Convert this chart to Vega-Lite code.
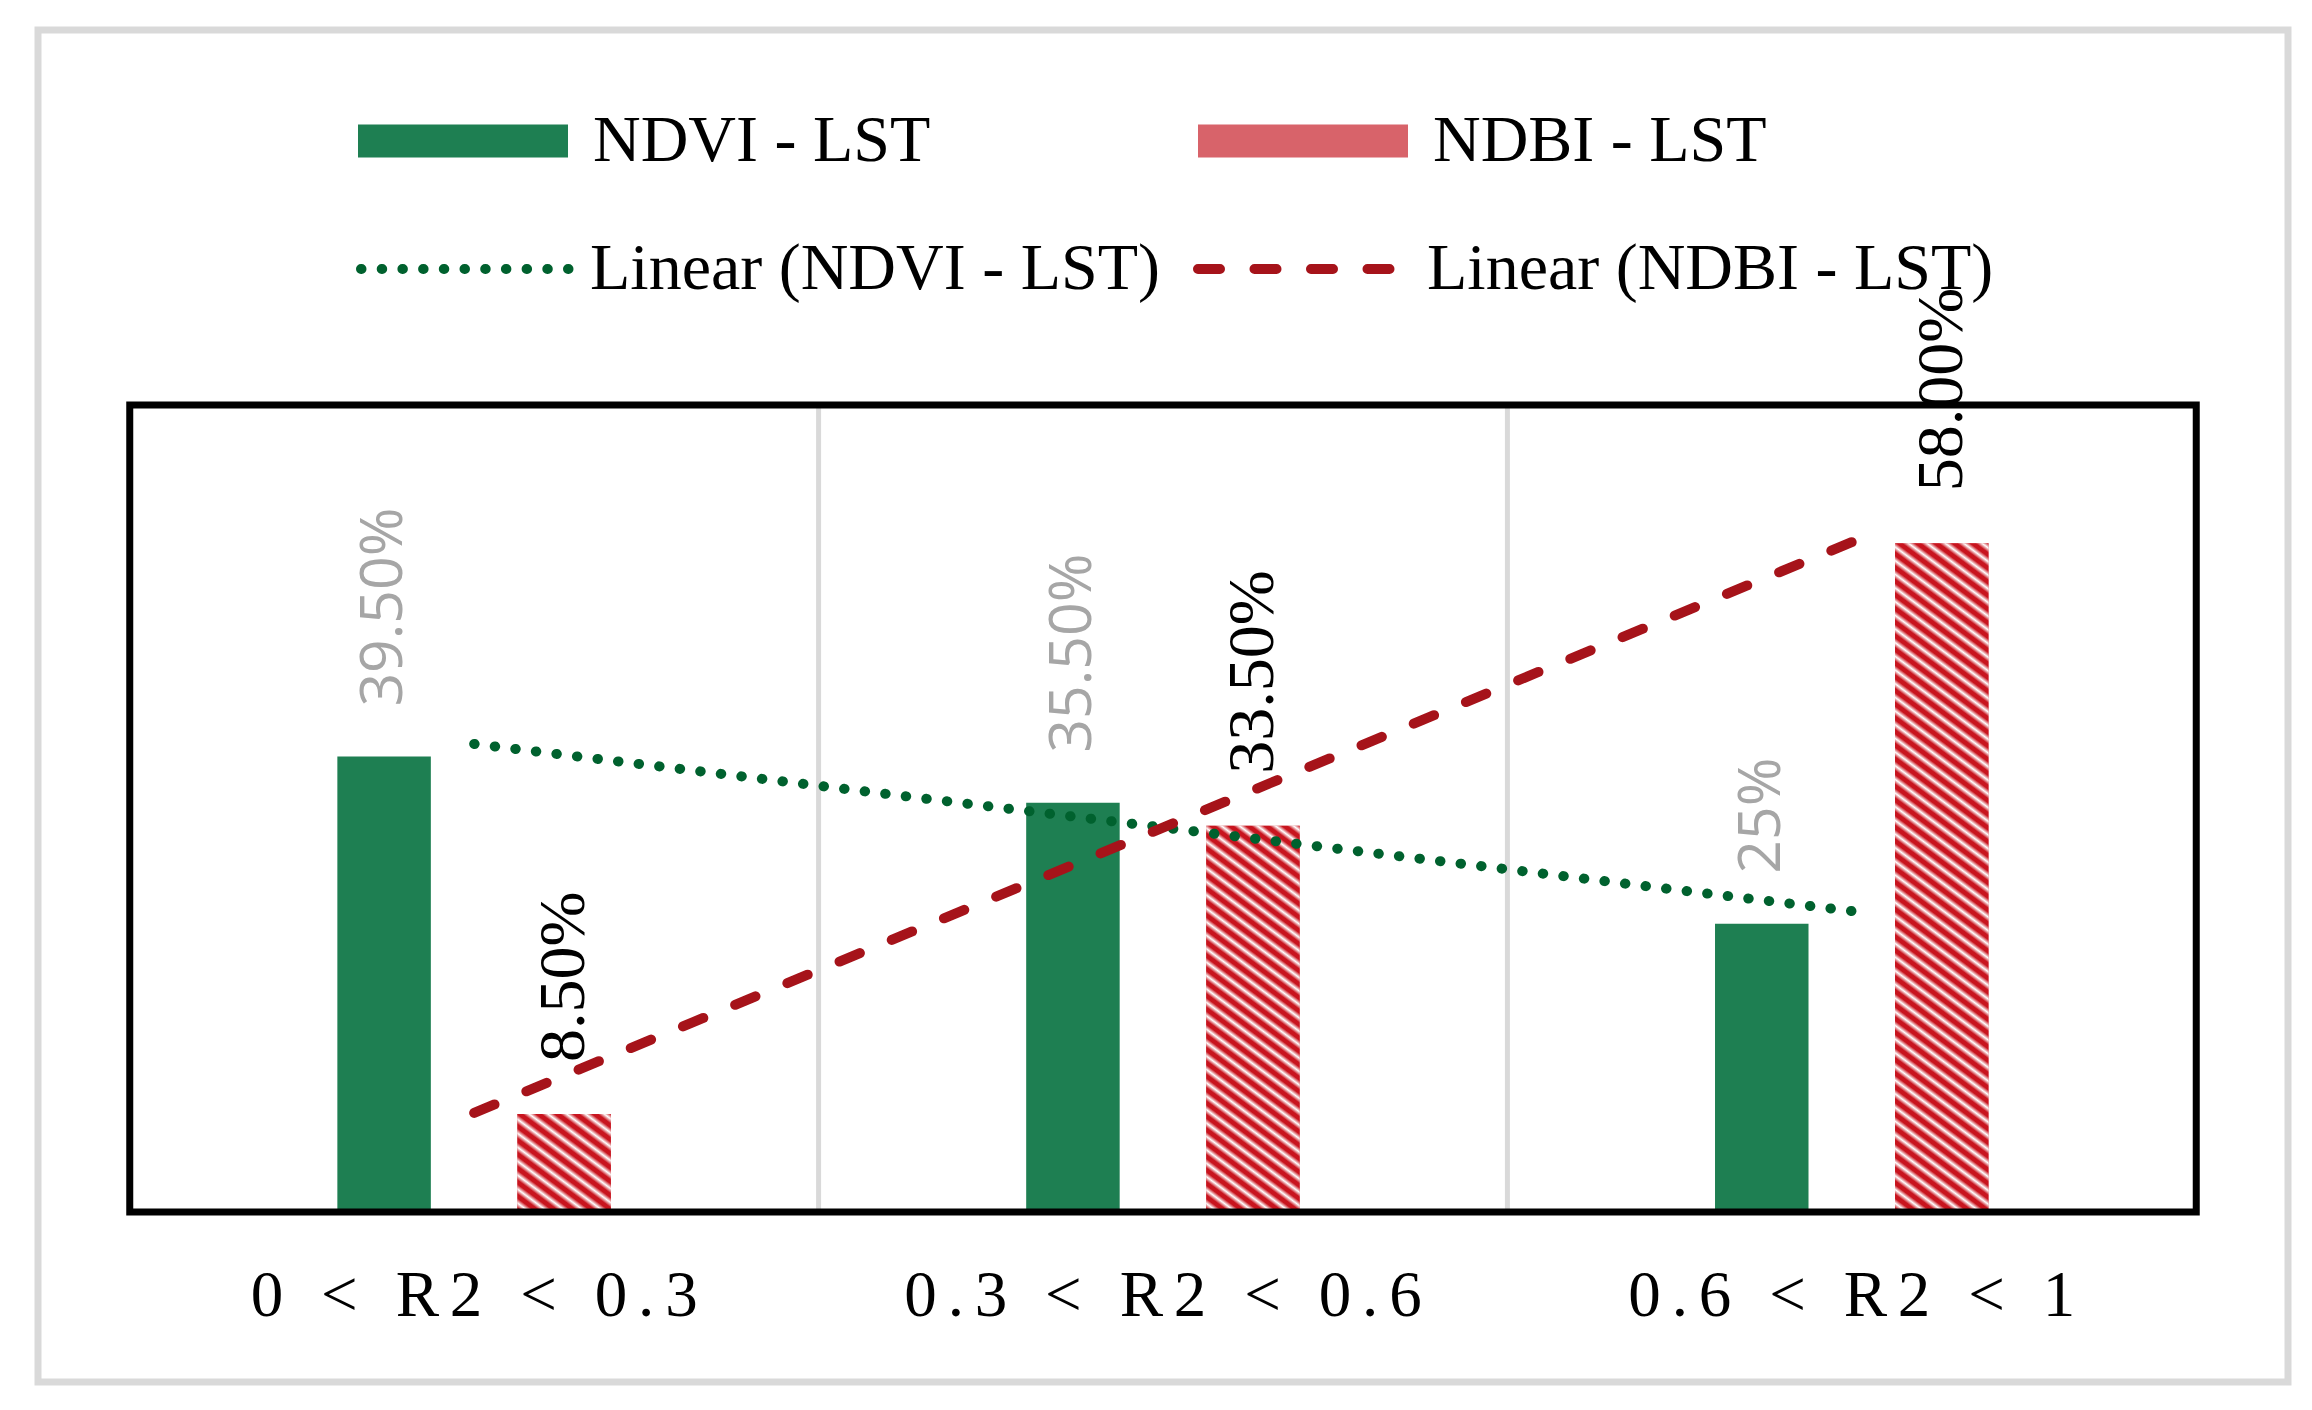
{
  "$schema": "https://vega.github.io/schema/vega-lite/v6.json",
  "width": 2250,
  "height": 1352,
  "autosize": {"type": "none"},
  "padding": {"left": 38, "top": 30, "right": 24, "bottom": 28},
  "background": "#ffffff",
  "datasets": {
    "bars": [
      {"cat": "0 < R2 < 0.3", "series": "NDVI - LST", "value": 39.5, "label": "39.50%"},
      {"cat": "0 < R2 < 0.3", "series": "NDBI - LST", "value": 8.5, "label": "8.50%"},
      {"cat": "0.3 < R2 < 0.6", "series": "NDVI - LST", "value": 35.5, "label": "35.50%"},
      {"cat": "0.3 < R2 < 0.6", "series": "NDBI - LST", "value": 33.5, "label": "33.50%"},
      {"cat": "0.6 < R2 < 1", "series": "NDVI - LST", "value": 25, "label": "25%"},
      {"cat": "0.6 < R2 < 1", "series": "NDBI - LST", "value": 58, "label": "58.00%"}
    ],
    "trend": [
      {"cat": "0 < R2 < 0.3", "trend": "Linear (NDVI - LST)", "value": 40.6},
      {"cat": "0.6 < R2 < 1", "trend": "Linear (NDVI - LST)", "value": 26.1},
      {"cat": "0 < R2 < 0.3", "trend": "Linear (NDBI - LST)", "value": 8.6},
      {"cat": "0.6 < R2 < 1", "trend": "Linear (NDBI - LST)", "value": 58.1}
    ],
    "gridlines": [
      {"cat": "0.3 < R2 < 0.6", "lo": 0, "hi": 70},
      {"cat": "0.6 < R2 < 1", "lo": 0, "hi": 70}
    ],
    "frame": [
      {"from": "0 < R2 < 0.3", "to": "0.6 < R2 < 1", "lo": 0, "hi": 70}
    ]
  },
  "encoding": {
    "x": {
      "field": "cat",
      "type": "nominal",
      "scale": {
        "domain": ["0 < R2 < 0.3", "0.3 < R2 < 0.6", "0.6 < R2 < 1"],
        "paddingInner": 0,
        "paddingOuter": 0.1332
      },
      "axis": {
        "title": null,
        "domain": false,
        "ticks": false,
        "grid": false,
        "offset": -170,
        "labelAngle": 0,
        "labelFont": "Liberation Serif",
        "labelFontSize": 65,
        "labelColor": "#000000",
        "labelPadding": 103,
        "labelBaseline": "alphabetic",
        "labelLimit": 0,
        "labelExpr": "join(split(datum.label, ''), '\u2006')"
      }
    },
    "y": {
      "field": "value",
      "type": "quantitative",
      "scale": {"domain": [-14.74, 102.52], "nice": false, "zero": false},
      "axis": null
    }
  },
  "layer": [
    {
      "data": {"name": "gridlines"},
      "mark": {"type": "rule", "stroke": "#d9d9d9", "strokeWidth": 5},
      "encoding": {
        "x": {"field": "cat", "type": "nominal", "bandPosition": 0},
        "y": {"field": "lo", "type": "quantitative"},
        "y2": {"field": "hi"}
      }
    },
    {
      "data": {"name": "bars"},
      "mark": {"type": "bar"},
      "encoding": {
        "xOffset": {
          "field": "series",
          "type": "nominal",
          "scale": {"domain": ["NDVI - LST", "NDBI - LST"], "range": [207.6, 481.1], "paddingInner": 0.4806, "paddingOuter": 0}
        },
        "y2": {"datum": 0},
        "color": {
          "field": "series",
          "type": "nominal",
          "scale": {"domain": ["NDVI - LST", "NDBI - LST"], "range": ["#1e7f52", "#d8636a"]},
          "legend": {
            "orient": "none",
            "legendX": 320,
            "legendY": 6,
            "direction": "horizontal",
            "title": null,
            "padding": 0,
            "symbolType": "M-1,-0.157H1V0.157H-1Z",
            "symbolSize": 44100,
            "symbolStrokeWidth": 0,
            "symbolOpacity": 1,
            "labelFont": "Liberation Serif",
            "labelFontSize": 66,
            "labelColor": "#000000",
            "labelOffset": 25,
            "labelLimit": 0,
            "columnPadding": 267
          }
        }
      }
    },
    {
      "data": {"name": "bars"},
      "transform": [{"filter": "datum.series === 'NDBI - LST'"}],
      "mark": {"type": "bar"},
      "encoding": {
        "xOffset": {"field": "series", "type": "nominal"},
        "y2": {"datum": 0},
        "fill": {
          "condition": [
            {
              "test": "datum.value === 58",
              "value": {
                "gradient": "linear", "x1": 0, "y1": 1, "x2": 0.1136, "y2": -0.0922,
                "stops": [
                  {"offset": 0, "color": "#c8141e"}, {"offset": 0.0056, "color": "#c8141e"}, {"offset": 0.012, "color": "#ffffff"},
                  {"offset": 0.0185, "color": "#c8141e"}, {"offset": 0.0241, "color": "#c8141e"}, {"offset": 0.0306, "color": "#ffffff"},
                  {"offset": 0.037, "color": "#c8141e"}, {"offset": 0.0426, "color": "#c8141e"}, {"offset": 0.0491, "color": "#ffffff"},
                  {"offset": 0.0556, "color": "#c8141e"}, {"offset": 0.0611, "color": "#c8141e"}, {"offset": 0.0676, "color": "#ffffff"},
                  {"offset": 0.0741, "color": "#c8141e"}, {"offset": 0.0796, "color": "#c8141e"}, {"offset": 0.0861, "color": "#ffffff"},
                  {"offset": 0.0926, "color": "#c8141e"}, {"offset": 0.0981, "color": "#c8141e"}, {"offset": 0.1046, "color": "#ffffff"},
                  {"offset": 0.1111, "color": "#c8141e"}, {"offset": 0.1167, "color": "#c8141e"}, {"offset": 0.1231, "color": "#ffffff"},
                  {"offset": 0.1296, "color": "#c8141e"}, {"offset": 0.1352, "color": "#c8141e"}, {"offset": 0.1417, "color": "#ffffff"},
                  {"offset": 0.1481, "color": "#c8141e"}, {"offset": 0.1537, "color": "#c8141e"}, {"offset": 0.1602, "color": "#ffffff"},
                  {"offset": 0.1667, "color": "#c8141e"}, {"offset": 0.1722, "color": "#c8141e"}, {"offset": 0.1787, "color": "#ffffff"},
                  {"offset": 0.1852, "color": "#c8141e"}, {"offset": 0.1907, "color": "#c8141e"}, {"offset": 0.1972, "color": "#ffffff"},
                  {"offset": 0.2037, "color": "#c8141e"}, {"offset": 0.2093, "color": "#c8141e"}, {"offset": 0.2157, "color": "#ffffff"},
                  {"offset": 0.2222, "color": "#c8141e"}, {"offset": 0.2278, "color": "#c8141e"}, {"offset": 0.2343, "color": "#ffffff"},
                  {"offset": 0.2407, "color": "#c8141e"}, {"offset": 0.2463, "color": "#c8141e"}, {"offset": 0.2528, "color": "#ffffff"},
                  {"offset": 0.2593, "color": "#c8141e"}, {"offset": 0.2648, "color": "#c8141e"}, {"offset": 0.2713, "color": "#ffffff"},
                  {"offset": 0.2778, "color": "#c8141e"}, {"offset": 0.2833, "color": "#c8141e"}, {"offset": 0.2898, "color": "#ffffff"},
                  {"offset": 0.2963, "color": "#c8141e"}, {"offset": 0.3019, "color": "#c8141e"}, {"offset": 0.3083, "color": "#ffffff"},
                  {"offset": 0.3148, "color": "#c8141e"}, {"offset": 0.3204, "color": "#c8141e"}, {"offset": 0.3269, "color": "#ffffff"},
                  {"offset": 0.3333, "color": "#c8141e"}, {"offset": 0.3389, "color": "#c8141e"}, {"offset": 0.3454, "color": "#ffffff"},
                  {"offset": 0.3519, "color": "#c8141e"}, {"offset": 0.3574, "color": "#c8141e"}, {"offset": 0.3639, "color": "#ffffff"},
                  {"offset": 0.3704, "color": "#c8141e"}, {"offset": 0.3759, "color": "#c8141e"}, {"offset": 0.3824, "color": "#ffffff"},
                  {"offset": 0.3889, "color": "#c8141e"}, {"offset": 0.3944, "color": "#c8141e"}, {"offset": 0.4009, "color": "#ffffff"},
                  {"offset": 0.4074, "color": "#c8141e"}, {"offset": 0.413, "color": "#c8141e"}, {"offset": 0.4194, "color": "#ffffff"},
                  {"offset": 0.4259, "color": "#c8141e"}, {"offset": 0.4315, "color": "#c8141e"}, {"offset": 0.438, "color": "#ffffff"},
                  {"offset": 0.4444, "color": "#c8141e"}, {"offset": 0.45, "color": "#c8141e"}, {"offset": 0.4565, "color": "#ffffff"},
                  {"offset": 0.463, "color": "#c8141e"}, {"offset": 0.4685, "color": "#c8141e"}, {"offset": 0.475, "color": "#ffffff"},
                  {"offset": 0.4815, "color": "#c8141e"}, {"offset": 0.487, "color": "#c8141e"}, {"offset": 0.4935, "color": "#ffffff"},
                  {"offset": 0.5, "color": "#c8141e"}, {"offset": 0.5056, "color": "#c8141e"}, {"offset": 0.512, "color": "#ffffff"},
                  {"offset": 0.5185, "color": "#c8141e"}, {"offset": 0.5241, "color": "#c8141e"}, {"offset": 0.5306, "color": "#ffffff"},
                  {"offset": 0.537, "color": "#c8141e"}, {"offset": 0.5426, "color": "#c8141e"}, {"offset": 0.5491, "color": "#ffffff"},
                  {"offset": 0.5556, "color": "#c8141e"}, {"offset": 0.5611, "color": "#c8141e"}, {"offset": 0.5676, "color": "#ffffff"},
                  {"offset": 0.5741, "color": "#c8141e"}, {"offset": 0.5796, "color": "#c8141e"}, {"offset": 0.5861, "color": "#ffffff"},
                  {"offset": 0.5926, "color": "#c8141e"}, {"offset": 0.5981, "color": "#c8141e"}, {"offset": 0.6046, "color": "#ffffff"},
                  {"offset": 0.6111, "color": "#c8141e"}, {"offset": 0.6167, "color": "#c8141e"}, {"offset": 0.6231, "color": "#ffffff"},
                  {"offset": 0.6296, "color": "#c8141e"}, {"offset": 0.6352, "color": "#c8141e"}, {"offset": 0.6417, "color": "#ffffff"},
                  {"offset": 0.6481, "color": "#c8141e"}, {"offset": 0.6537, "color": "#c8141e"}, {"offset": 0.6602, "color": "#ffffff"},
                  {"offset": 0.6667, "color": "#c8141e"}, {"offset": 0.6722, "color": "#c8141e"}, {"offset": 0.6787, "color": "#ffffff"},
                  {"offset": 0.6852, "color": "#c8141e"}, {"offset": 0.6907, "color": "#c8141e"}, {"offset": 0.6972, "color": "#ffffff"},
                  {"offset": 0.7037, "color": "#c8141e"}, {"offset": 0.7093, "color": "#c8141e"}, {"offset": 0.7157, "color": "#ffffff"},
                  {"offset": 0.7222, "color": "#c8141e"}, {"offset": 0.7278, "color": "#c8141e"}, {"offset": 0.7343, "color": "#ffffff"},
                  {"offset": 0.7407, "color": "#c8141e"}, {"offset": 0.7463, "color": "#c8141e"}, {"offset": 0.7528, "color": "#ffffff"},
                  {"offset": 0.7593, "color": "#c8141e"}, {"offset": 0.7648, "color": "#c8141e"}, {"offset": 0.7713, "color": "#ffffff"},
                  {"offset": 0.7778, "color": "#c8141e"}, {"offset": 0.7833, "color": "#c8141e"}, {"offset": 0.7898, "color": "#ffffff"},
                  {"offset": 0.7963, "color": "#c8141e"}, {"offset": 0.8019, "color": "#c8141e"}, {"offset": 0.8083, "color": "#ffffff"},
                  {"offset": 0.8148, "color": "#c8141e"}, {"offset": 0.8204, "color": "#c8141e"}, {"offset": 0.8269, "color": "#ffffff"},
                  {"offset": 0.8333, "color": "#c8141e"}, {"offset": 0.8389, "color": "#c8141e"}, {"offset": 0.8454, "color": "#ffffff"},
                  {"offset": 0.8519, "color": "#c8141e"}, {"offset": 0.8574, "color": "#c8141e"}, {"offset": 0.8639, "color": "#ffffff"},
                  {"offset": 0.8704, "color": "#c8141e"}, {"offset": 0.8759, "color": "#c8141e"}, {"offset": 0.8824, "color": "#ffffff"},
                  {"offset": 0.8889, "color": "#c8141e"}, {"offset": 0.8944, "color": "#c8141e"}, {"offset": 0.9009, "color": "#ffffff"},
                  {"offset": 0.9074, "color": "#c8141e"}, {"offset": 0.913, "color": "#c8141e"}, {"offset": 0.9194, "color": "#ffffff"},
                  {"offset": 0.9259, "color": "#c8141e"}, {"offset": 0.9315, "color": "#c8141e"}, {"offset": 0.938, "color": "#ffffff"},
                  {"offset": 0.9444, "color": "#c8141e"}, {"offset": 0.95, "color": "#c8141e"}, {"offset": 0.9565, "color": "#ffffff"},
                  {"offset": 0.963, "color": "#c8141e"}, {"offset": 0.9685, "color": "#c8141e"}, {"offset": 0.975, "color": "#ffffff"},
                  {"offset": 0.9815, "color": "#c8141e"}, {"offset": 0.987, "color": "#c8141e"}, {"offset": 0.9935, "color": "#ffffff"},
                  {"offset": 1, "color": "#c8141e"}
                ]
              }
            },
            {
              "test": "datum.value === 33.5",
              "value": {
                "gradient": "linear", "x1": 0, "y1": 1, "x2": 0.2058, "y2": -0.1429,
                "stops": [
                  {"offset": 0, "color": "#c8141e"}, {"offset": 0.0088, "color": "#c8141e"}, {"offset": 0.0191, "color": "#ffffff"},
                  {"offset": 0.0294, "color": "#c8141e"}, {"offset": 0.0382, "color": "#c8141e"}, {"offset": 0.0485, "color": "#ffffff"},
                  {"offset": 0.0588, "color": "#c8141e"}, {"offset": 0.0676, "color": "#c8141e"}, {"offset": 0.0779, "color": "#ffffff"},
                  {"offset": 0.0882, "color": "#c8141e"}, {"offset": 0.0971, "color": "#c8141e"}, {"offset": 0.1074, "color": "#ffffff"},
                  {"offset": 0.1176, "color": "#c8141e"}, {"offset": 0.1265, "color": "#c8141e"}, {"offset": 0.1368, "color": "#ffffff"},
                  {"offset": 0.1471, "color": "#c8141e"}, {"offset": 0.1559, "color": "#c8141e"}, {"offset": 0.1662, "color": "#ffffff"},
                  {"offset": 0.1765, "color": "#c8141e"}, {"offset": 0.1853, "color": "#c8141e"}, {"offset": 0.1956, "color": "#ffffff"},
                  {"offset": 0.2059, "color": "#c8141e"}, {"offset": 0.2147, "color": "#c8141e"}, {"offset": 0.225, "color": "#ffffff"},
                  {"offset": 0.2353, "color": "#c8141e"}, {"offset": 0.2441, "color": "#c8141e"}, {"offset": 0.2544, "color": "#ffffff"},
                  {"offset": 0.2647, "color": "#c8141e"}, {"offset": 0.2735, "color": "#c8141e"}, {"offset": 0.2838, "color": "#ffffff"},
                  {"offset": 0.2941, "color": "#c8141e"}, {"offset": 0.3029, "color": "#c8141e"}, {"offset": 0.3132, "color": "#ffffff"},
                  {"offset": 0.3235, "color": "#c8141e"}, {"offset": 0.3324, "color": "#c8141e"}, {"offset": 0.3426, "color": "#ffffff"},
                  {"offset": 0.3529, "color": "#c8141e"}, {"offset": 0.3618, "color": "#c8141e"}, {"offset": 0.3721, "color": "#ffffff"},
                  {"offset": 0.3824, "color": "#c8141e"}, {"offset": 0.3912, "color": "#c8141e"}, {"offset": 0.4015, "color": "#ffffff"},
                  {"offset": 0.4118, "color": "#c8141e"}, {"offset": 0.4206, "color": "#c8141e"}, {"offset": 0.4309, "color": "#ffffff"},
                  {"offset": 0.4412, "color": "#c8141e"}, {"offset": 0.45, "color": "#c8141e"}, {"offset": 0.4603, "color": "#ffffff"},
                  {"offset": 0.4706, "color": "#c8141e"}, {"offset": 0.4794, "color": "#c8141e"}, {"offset": 0.4897, "color": "#ffffff"},
                  {"offset": 0.5, "color": "#c8141e"}, {"offset": 0.5088, "color": "#c8141e"}, {"offset": 0.5191, "color": "#ffffff"},
                  {"offset": 0.5294, "color": "#c8141e"}, {"offset": 0.5382, "color": "#c8141e"}, {"offset": 0.5485, "color": "#ffffff"},
                  {"offset": 0.5588, "color": "#c8141e"}, {"offset": 0.5676, "color": "#c8141e"}, {"offset": 0.5779, "color": "#ffffff"},
                  {"offset": 0.5882, "color": "#c8141e"}, {"offset": 0.5971, "color": "#c8141e"}, {"offset": 0.6074, "color": "#ffffff"},
                  {"offset": 0.6176, "color": "#c8141e"}, {"offset": 0.6265, "color": "#c8141e"}, {"offset": 0.6368, "color": "#ffffff"},
                  {"offset": 0.6471, "color": "#c8141e"}, {"offset": 0.6559, "color": "#c8141e"}, {"offset": 0.6662, "color": "#ffffff"},
                  {"offset": 0.6765, "color": "#c8141e"}, {"offset": 0.6853, "color": "#c8141e"}, {"offset": 0.6956, "color": "#ffffff"},
                  {"offset": 0.7059, "color": "#c8141e"}, {"offset": 0.7147, "color": "#c8141e"}, {"offset": 0.725, "color": "#ffffff"},
                  {"offset": 0.7353, "color": "#c8141e"}, {"offset": 0.7441, "color": "#c8141e"}, {"offset": 0.7544, "color": "#ffffff"},
                  {"offset": 0.7647, "color": "#c8141e"}, {"offset": 0.7735, "color": "#c8141e"}, {"offset": 0.7838, "color": "#ffffff"},
                  {"offset": 0.7941, "color": "#c8141e"}, {"offset": 0.8029, "color": "#c8141e"}, {"offset": 0.8132, "color": "#ffffff"},
                  {"offset": 0.8235, "color": "#c8141e"}, {"offset": 0.8324, "color": "#c8141e"}, {"offset": 0.8426, "color": "#ffffff"},
                  {"offset": 0.8529, "color": "#c8141e"}, {"offset": 0.8618, "color": "#c8141e"}, {"offset": 0.8721, "color": "#ffffff"},
                  {"offset": 0.8824, "color": "#c8141e"}, {"offset": 0.8912, "color": "#c8141e"}, {"offset": 0.9015, "color": "#ffffff"},
                  {"offset": 0.9118, "color": "#c8141e"}, {"offset": 0.9206, "color": "#c8141e"}, {"offset": 0.9309, "color": "#ffffff"},
                  {"offset": 0.9412, "color": "#c8141e"}, {"offset": 0.95, "color": "#c8141e"}, {"offset": 0.9603, "color": "#ffffff"},
                  {"offset": 0.9706, "color": "#c8141e"}, {"offset": 0.9794, "color": "#c8141e"}, {"offset": 0.9897, "color": "#ffffff"},
                  {"offset": 1, "color": "#c8141e"}
                ]
              }
            }
          ],
          "value": {
            "gradient": "linear", "x1": 0, "y1": 1, "x2": 0.807, "y2": -0.137,
            "stops": [
              {"offset": 0, "color": "#c8141e"}, {"offset": 0.025, "color": "#c8141e"}, {"offset": 0.0542, "color": "#ffffff"},
              {"offset": 0.0833, "color": "#c8141e"}, {"offset": 0.1083, "color": "#c8141e"}, {"offset": 0.1375, "color": "#ffffff"},
              {"offset": 0.1667, "color": "#c8141e"}, {"offset": 0.1917, "color": "#c8141e"}, {"offset": 0.2208, "color": "#ffffff"},
              {"offset": 0.25, "color": "#c8141e"}, {"offset": 0.275, "color": "#c8141e"}, {"offset": 0.3042, "color": "#ffffff"},
              {"offset": 0.3333, "color": "#c8141e"}, {"offset": 0.3583, "color": "#c8141e"}, {"offset": 0.3875, "color": "#ffffff"},
              {"offset": 0.4167, "color": "#c8141e"}, {"offset": 0.4417, "color": "#c8141e"}, {"offset": 0.4708, "color": "#ffffff"},
              {"offset": 0.5, "color": "#c8141e"}, {"offset": 0.525, "color": "#c8141e"}, {"offset": 0.5542, "color": "#ffffff"},
              {"offset": 0.5833, "color": "#c8141e"}, {"offset": 0.6083, "color": "#c8141e"}, {"offset": 0.6375, "color": "#ffffff"},
              {"offset": 0.6667, "color": "#c8141e"}, {"offset": 0.6917, "color": "#c8141e"}, {"offset": 0.7208, "color": "#ffffff"},
              {"offset": 0.75, "color": "#c8141e"}, {"offset": 0.775, "color": "#c8141e"}, {"offset": 0.8042, "color": "#ffffff"},
              {"offset": 0.8333, "color": "#c8141e"}, {"offset": 0.8583, "color": "#c8141e"}, {"offset": 0.8875, "color": "#ffffff"},
              {"offset": 0.9167, "color": "#c8141e"}, {"offset": 0.9417, "color": "#c8141e"}, {"offset": 0.9708, "color": "#ffffff"},
              {"offset": 1, "color": "#c8141e"}
            ]
          }
        }
      }
    },
    {
      "data": {"name": "frame"},
      "mark": {"type": "rect", "filled": false, "stroke": "#000000", "strokeWidth": 7},
      "encoding": {
        "x": {"field": "from", "type": "nominal", "bandPosition": 0},
        "x2": {"field": "to", "bandPosition": 1},
        "y": {"field": "lo", "type": "quantitative"},
        "y2": {"field": "hi"}
      }
    },
    {
      "data": {"name": "trend"},
      "mark": {"type": "line", "strokeWidth": 10, "strokeCap": "round"},
      "encoding": {
        "stroke": {
          "field": "trend",
          "type": "nominal",
          "scale": {"domain": ["Linear (NDVI - LST)", "Linear (NDBI - LST)"], "range": ["#00612e", "#a6131a"]},
          "legend": {
            "orient": "none",
            "legendX": 318,
            "legendY": 126,
            "direction": "horizontal",
            "title": null,
            "padding": 0,
            "symbolType": "M-1,0H1",
            "symbolSize": 46656,
            "symbolStrokeWidth": 10,
            "labelFont": "Liberation Serif",
            "labelFontSize": 66,
            "labelColor": "#000000",
            "labelOffset": 8,
            "labelLimit": 0,
            "columnPadding": 18,
            "encode": {"symbols": {"update": {"strokeCap": {"value": "round"}}}}
          }
        },
        "strokeDash": {
          "field": "trend",
          "type": "nominal",
          "scale": {"domain": ["Linear (NDVI - LST)", "Linear (NDBI - LST)"], "range": [[0.5, 20.2], [22, 34.5]]},
          "legend": {
            "orient": "none",
            "legendX": 318,
            "legendY": 126,
            "direction": "horizontal",
            "title": null,
            "padding": 0,
            "symbolType": "M-1,0H1",
            "symbolSize": 46656,
            "symbolStrokeWidth": 10,
            "labelFont": "Liberation Serif",
            "labelFontSize": 66,
            "labelColor": "#000000",
            "labelOffset": 8,
            "labelLimit": 0,
            "columnPadding": 18,
            "encode": {"symbols": {"update": {"strokeCap": {"value": "round"}}}}
          }
        }
      }
    },
    {
      "data": {"name": "bars"},
      "transform": [{"filter": "datum.series === 'NDVI - LST'"}],
      "mark": {
        "type": "text",
        "angle": 270,
        "align": "left",
        "baseline": "middle",
        "dx": 50,
        "font": "Open Sans",
        "fontSize": 59,
        "color": "#a6a6a6"
      },
      "encoding": {
        "xOffset": {"field": "series", "type": "nominal"},
        "text": {"field": "label", "type": "nominal"}
      }
    },
    {
      "data": {"name": "bars"},
      "transform": [{"filter": "datum.series === 'NDBI - LST'"}],
      "mark": {
        "type": "text",
        "angle": 270,
        "align": "left",
        "baseline": "middle",
        "dx": 52,
        "font": "Liberation Serif",
        "fontSize": 66,
        "color": "#000000"
      },
      "encoding": {
        "xOffset": {"field": "series", "type": "nominal"},
        "text": {"field": "label", "type": "nominal"}
      }
    }
  ],
  "config": {
    "view": {"stroke": "#d9d9d9", "strokeWidth": 7}
  }
}
